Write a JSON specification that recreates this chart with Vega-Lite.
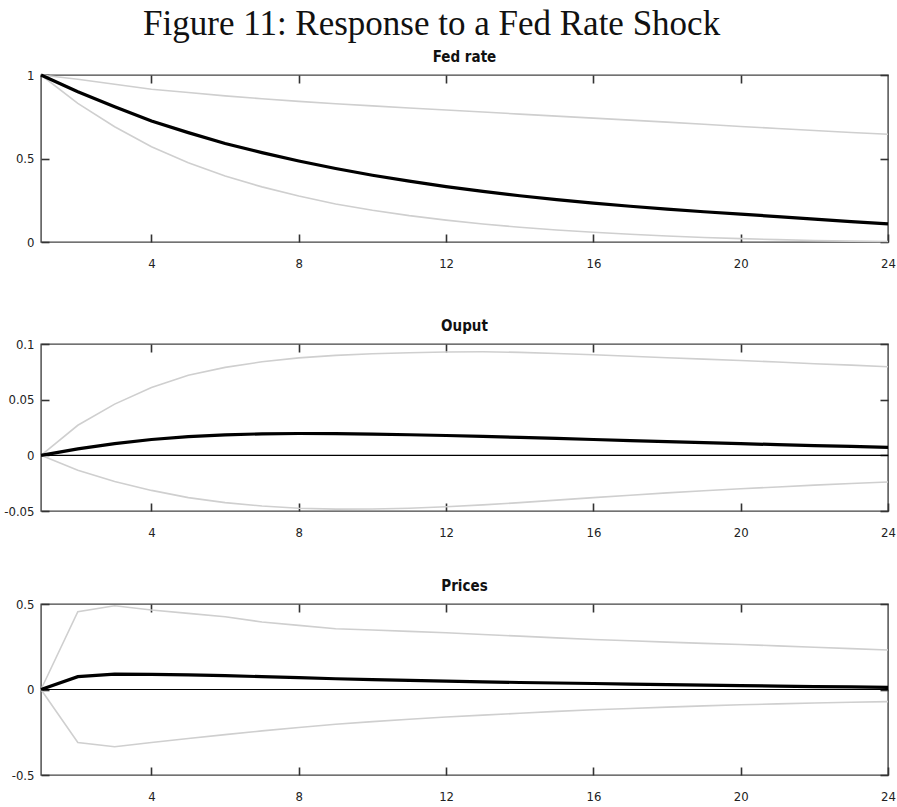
{
  "$schema": "https://vega.github.io/schema/vega-lite/v6.json",
  "background": "white",
  "padding": {"left": 3, "top": 6, "right": 0, "bottom": 4},
  "title": {
    "text": "Figure 11: Response to a Fed Rate Shock",
    "font": "Liberation Serif",
    "fontSize": 35,
    "fontWeight": "normal",
    "color": "#111111",
    "anchor": "middle",
    "dx": -18,
    "offset": 7
  },
  "datasets": {
    "fed": [
      {"t": 1, "lo": 1.0, "med": 1.0, "hi": 1.0},
      {"t": 2, "lo": 0.83, "med": 0.9, "hi": 0.975},
      {"t": 3, "lo": 0.69, "med": 0.81, "hi": 0.945},
      {"t": 4, "lo": 0.57, "med": 0.725, "hi": 0.915},
      {"t": 5, "lo": 0.475, "med": 0.655, "hi": 0.895},
      {"t": 6, "lo": 0.395, "med": 0.59, "hi": 0.875},
      {"t": 7, "lo": 0.33, "med": 0.535, "hi": 0.858},
      {"t": 8, "lo": 0.275, "med": 0.485, "hi": 0.842},
      {"t": 9, "lo": 0.228, "med": 0.44, "hi": 0.828},
      {"t": 10, "lo": 0.19, "med": 0.4, "hi": 0.815},
      {"t": 11, "lo": 0.158, "med": 0.365, "hi": 0.802},
      {"t": 12, "lo": 0.131, "med": 0.332, "hi": 0.79},
      {"t": 13, "lo": 0.108, "med": 0.303, "hi": 0.778},
      {"t": 14, "lo": 0.088, "med": 0.277, "hi": 0.766},
      {"t": 15, "lo": 0.072, "med": 0.254, "hi": 0.754},
      {"t": 16, "lo": 0.058, "med": 0.233, "hi": 0.742},
      {"t": 17, "lo": 0.046, "med": 0.214, "hi": 0.73},
      {"t": 18, "lo": 0.036, "med": 0.197, "hi": 0.718},
      {"t": 19, "lo": 0.027, "med": 0.181, "hi": 0.705},
      {"t": 20, "lo": 0.02, "med": 0.167, "hi": 0.692},
      {"t": 21, "lo": 0.014, "med": 0.152, "hi": 0.68},
      {"t": 22, "lo": 0.009, "med": 0.137, "hi": 0.668},
      {"t": 23, "lo": 0.005, "med": 0.122, "hi": 0.656},
      {"t": 24, "lo": 0.003, "med": 0.108, "hi": 0.645}
    ],
    "output": [
      {"t": 1, "lo": 0.0, "med": 0.0, "hi": 0.0},
      {"t": 2, "lo": -0.0135, "med": 0.0058, "hi": 0.027},
      {"t": 3, "lo": -0.0235, "med": 0.0105, "hi": 0.046},
      {"t": 4, "lo": -0.0315, "med": 0.0142, "hi": 0.061},
      {"t": 5, "lo": -0.038, "med": 0.0168, "hi": 0.072},
      {"t": 6, "lo": -0.0425, "med": 0.0184, "hi": 0.079},
      {"t": 7, "lo": -0.0455, "med": 0.0193, "hi": 0.084},
      {"t": 8, "lo": -0.0475, "med": 0.0196, "hi": 0.0875},
      {"t": 9, "lo": -0.0483, "med": 0.0195, "hi": 0.0898},
      {"t": 10, "lo": -0.0482, "med": 0.0191, "hi": 0.0912},
      {"t": 11, "lo": -0.0475, "med": 0.0185, "hi": 0.0922},
      {"t": 12, "lo": -0.0462, "med": 0.0178, "hi": 0.0928},
      {"t": 13, "lo": -0.0445, "med": 0.017, "hi": 0.093},
      {"t": 14, "lo": -0.0425, "med": 0.0161, "hi": 0.0925},
      {"t": 15, "lo": -0.0402, "med": 0.0152, "hi": 0.0915},
      {"t": 16, "lo": -0.038, "med": 0.0142, "hi": 0.0903},
      {"t": 17, "lo": -0.0358, "med": 0.0133, "hi": 0.089},
      {"t": 18, "lo": -0.0337, "med": 0.0123, "hi": 0.0877},
      {"t": 19, "lo": -0.0318, "med": 0.0114, "hi": 0.0864},
      {"t": 20, "lo": -0.03, "med": 0.0105, "hi": 0.0852},
      {"t": 21, "lo": -0.0284, "med": 0.0096, "hi": 0.0838},
      {"t": 22, "lo": -0.0268, "med": 0.0088, "hi": 0.0822},
      {"t": 23, "lo": -0.0253, "med": 0.008, "hi": 0.081},
      {"t": 24, "lo": -0.024, "med": 0.0072, "hi": 0.0796}
    ],
    "prices": [
      {"t": 1, "lo": 0.0, "med": 0.0, "hi": 0.0},
      {"t": 2, "lo": -0.31, "med": 0.075, "hi": 0.455},
      {"t": 3, "lo": -0.335, "med": 0.09, "hi": 0.49},
      {"t": 4, "lo": -0.31, "med": 0.089, "hi": 0.465},
      {"t": 5, "lo": -0.287, "med": 0.086, "hi": 0.445},
      {"t": 6, "lo": -0.264, "med": 0.081, "hi": 0.425},
      {"t": 7, "lo": -0.242, "med": 0.075, "hi": 0.395},
      {"t": 8, "lo": -0.222, "med": 0.069, "hi": 0.375},
      {"t": 9, "lo": -0.203, "med": 0.063, "hi": 0.355},
      {"t": 10, "lo": -0.188, "med": 0.058, "hi": 0.348},
      {"t": 11, "lo": -0.174, "med": 0.053, "hi": 0.34},
      {"t": 12, "lo": -0.161, "med": 0.049, "hi": 0.332},
      {"t": 13, "lo": -0.15, "med": 0.045, "hi": 0.322},
      {"t": 14, "lo": -0.139, "med": 0.041, "hi": 0.312},
      {"t": 15, "lo": -0.128, "med": 0.038, "hi": 0.302},
      {"t": 16, "lo": -0.118, "med": 0.035, "hi": 0.292},
      {"t": 17, "lo": -0.111, "med": 0.032, "hi": 0.285},
      {"t": 18, "lo": -0.103, "med": 0.029, "hi": 0.277},
      {"t": 19, "lo": -0.096, "med": 0.026, "hi": 0.27},
      {"t": 20, "lo": -0.089, "med": 0.023, "hi": 0.263},
      {"t": 21, "lo": -0.084, "med": 0.02, "hi": 0.255},
      {"t": 22, "lo": -0.079, "med": 0.017, "hi": 0.247},
      {"t": 23, "lo": -0.075, "med": 0.015, "hi": 0.239},
      {"t": 24, "lo": -0.071, "med": 0.013, "hi": 0.231}
    ]
  },
  "bounds": "flush",
  "spacing": 102,
  "vconcat": [
    {
      "title": {"text": "Fed rate"},
      "width": 847,
      "height": 167,
      "data": {"name": "fed"},
      "layer": [
        {
          "transform": [{"fold": ["lo", "hi"], "as": ["band", "v"]}],
          "mark": {"type": "line", "color": "#cfcfcf", "strokeWidth": 1.6},
          "encoding": {
            "x": {"field": "t", "type": "quantitative", "scale": {"domain": [1, 24], "nice": false, "zero": false},
                  "axis": {"orient": "bottom", "values": [4, 8, 12, 16, 20, 24], "labelPadding": 23}},
            "y": {"field": "v", "type": "quantitative", "scale": {"domain": [0, 1], "nice": false, "zero": false},
                  "axis": {"orient": "left", "values": [0, 0.5, 1], "labelPadding": 15}},
            "detail": {"field": "band"}
          }
        },
        {
          "mark": {"type": "line", "color": "black", "strokeWidth": 3.2},
          "encoding": {
            "x": {"field": "t", "type": "quantitative", "scale": {"domain": [1, 24], "nice": false, "zero": false},
                  "axis": {"orient": "top", "values": [4, 8, 12, 16, 20], "labels": false}},
            "y": {"field": "med", "type": "quantitative", "scale": {"domain": [0, 1], "nice": false, "zero": false},
                  "axis": {"orient": "right", "values": [0, 0.5, 1], "labels": false}}
          }
        }
      ],
      "resolve": {"axis": {"x": "independent", "y": "independent"}}
    },
    {
      "bounds": "flush",
      "spacing": 93,
      "vconcat": [
        {
          "title": {"text": "Ouput"},
          "width": 847,
          "height": 167,
          "data": {"name": "output"},
          "layer": [
            {
              "transform": [{"fold": ["lo", "hi"], "as": ["band", "v"]}],
              "mark": {"type": "line", "color": "#cfcfcf", "strokeWidth": 1.6},
              "encoding": {
                "x": {"field": "t", "type": "quantitative", "scale": {"domain": [1, 24], "nice": false, "zero": false},
                      "axis": {"orient": "bottom", "values": [4, 8, 12, 16, 20, 24], "labelPadding": 23}},
                "y": {"field": "v", "type": "quantitative", "scale": {"domain": [-0.05, 0.1], "nice": false, "zero": false},
                      "axis": {"orient": "left", "values": [-0.05, 0, 0.05, 0.1], "labelPadding": 15}},
                "detail": {"field": "band"}
              }
            },
            {
              "data": {"values": [{"z": 0}]},
              "mark": {"type": "rule", "color": "black", "strokeWidth": 1.2},
              "encoding": {
                "y": {"field": "z", "type": "quantitative", "scale": {"domain": [-0.05, 0.1], "nice": false, "zero": false}, "axis": null}
              }
            },
            {
              "mark": {"type": "line", "color": "black", "strokeWidth": 3.2},
              "encoding": {
                "x": {"field": "t", "type": "quantitative", "scale": {"domain": [1, 24], "nice": false, "zero": false},
                      "axis": {"orient": "top", "values": [4, 8, 12, 16, 20], "labels": false}},
                "y": {"field": "med", "type": "quantitative", "scale": {"domain": [-0.05, 0.1], "nice": false, "zero": false},
                      "axis": {"orient": "right", "values": [-0.05, 0, 0.05, 0.1], "labels": false}}
              }
            }
          ],
          "resolve": {"axis": {"x": "independent", "y": "independent"}}
        },
        {
          "title": {"text": "Prices"},
          "width": 847,
          "height": 171,
          "data": {"name": "prices"},
          "layer": [
            {
              "transform": [{"fold": ["lo", "hi"], "as": ["band", "v"]}],
              "mark": {"type": "line", "color": "#cfcfcf", "strokeWidth": 1.6},
              "encoding": {
                "x": {"field": "t", "type": "quantitative", "scale": {"domain": [1, 24], "nice": false, "zero": false},
                      "axis": {"orient": "bottom", "values": [4, 8, 12, 16, 20, 24], "labelPadding": 23}},
                "y": {"field": "v", "type": "quantitative", "scale": {"domain": [-0.5, 0.5], "nice": false, "zero": false},
                      "axis": {"orient": "left", "values": [-0.5, 0, 0.5], "labelPadding": 15}},
                "detail": {"field": "band"}
              }
            },
            {
              "data": {"values": [{"z": 0}]},
              "mark": {"type": "rule", "color": "black", "strokeWidth": 1.2},
              "encoding": {
                "y": {"field": "z", "type": "quantitative", "scale": {"domain": [-0.5, 0.5], "nice": false, "zero": false}, "axis": null}
              }
            },
            {
              "mark": {"type": "line", "color": "black", "strokeWidth": 3.2},
              "encoding": {
                "x": {"field": "t", "type": "quantitative", "scale": {"domain": [1, 24], "nice": false, "zero": false},
                      "axis": {"orient": "top", "values": [4, 8, 12, 16, 20], "labels": false}},
                "y": {"field": "med", "type": "quantitative", "scale": {"domain": [-0.5, 0.5], "nice": false, "zero": false},
                      "axis": {"orient": "right", "values": [-0.5, 0, 0.5], "labels": false}}
              }
            }
          ],
          "resolve": {"axis": {"x": "independent", "y": "independent"}}
        }
      ]
    }
  ],
  "config": {
    "view": {"stroke": "#444444", "strokeWidth": 1.4},
    "axis": {
      "title": null,
      "grid": false,
      "domain": false,
      "tickSize": -8,
      "tickColor": "#333333",
      "tickWidth": 1.6,
      "labelExpr": "datum.value + ''",
      "labelFont": "Liberation Sans Narrow, DejaVu Sans Condensed, Roboto, sans-serif",
      "labelFontSize": 13,
      "labelColor": "#222222",
      "labelFlush": false,
      "labelOverlap": false
    },
    "title": {
      "font": "Liberation Sans Narrow, DejaVu Sans Condensed, Roboto, sans-serif",
      "fontSize": 15,
      "fontWeight": "bold",
      "color": "#111111",
      "offset": 4
    }
  }
}
